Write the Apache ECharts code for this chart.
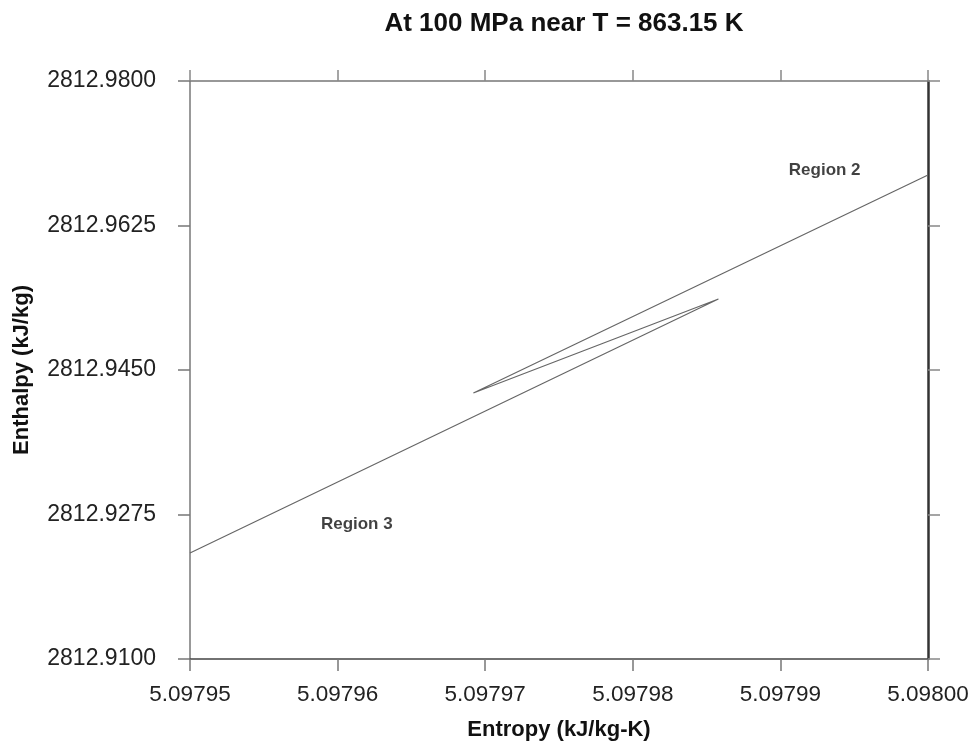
<!DOCTYPE html>
<html>
<head>
<meta charset="utf-8">
<script src="https://cdn.jsdelivr.net/npm/echarts@6/dist/echarts.min.js"></script>
<style>
html,body{margin:0;padding:0;background:#fff;}
#chart{width:972px;height:747px;}
</style>
</head>
<body>
<div id="chart"></div>
<script>
// Data
const entropy = [5.09795, 5.0979858, 5.0979692, 5.09800];           // kJ/kg-K
const enthalpy = [2812.92284, 2812.95360, 2812.94221, 2812.96862];   // kJ/kg
const regionNames = ['Region 2', 'Region 3'];
const regionEntropy = [5.0979930, 5.0979613];
const regionEnthalpy = [2812.96922, 2812.92635];
const xTickStart = 5.09795, xTickEnd = 5.09800, xTickStep = 0.00001;
const yTickStart = 2812.9100, yTickEnd = 2812.9800, yTickStep = 0.0175;

const lineData = entropy.map((s, i) => [s - xTickStart, enthalpy[i] - yTickStart]);
const regionData = regionNames.map((n, i) => ({
  name: n, value: [regionEntropy[i] - xTickStart, regionEnthalpy[i] - yTickStart]
}));

const FONT = 'Liberation Sans, Arial, sans-serif';
const chart = echarts.init(document.getElementById('chart'), null, {renderer: 'canvas'});
const xBase = {
  type: 'value', min: 0, max: xTickEnd - xTickStart, interval: xTickStep,
  splitLine: {show: false}
};
const yBase = {
  type: 'value', min: 0, max: yTickEnd - yTickStart, interval: yTickStep,
  splitLine: {show: false}
};
chart.setOption({
  animation: false,
  backgroundColor: '#fff',
  title: {
    text: 'At 100 MPa near T = 863.15 K', left: 559, top: 6, textAlign: 'center',
    textStyle: {fontFamily: FONT, fontSize: 26, fontWeight: 'bold', color: '#111'}
  },
  grid: {left: 190, right: 44, top: 81, bottom: 88, containLabel: false},
  xAxis: [
    Object.assign({}, xBase, {
      position: 'bottom',
      name: 'Entropy (kJ/kg-K)', nameLocation: 'middle', nameGap: 60,
      nameTextStyle: {fontFamily: FONT, fontSize: 22, fontWeight: 'bold', color: '#111'},
      axisLine: {show: true, onZero: false, lineStyle: {color: '#444', width: 1.5}},
      axisTick: {show: true, inside: false, length: 12, lineStyle: {color: '#777', width: 1.5}},
      axisLabel: {margin: 24, fontFamily: FONT, fontSize: 22.5, color: '#222',
        formatter: v => (xTickStart + v).toFixed(5)}
    }),
    Object.assign({}, xBase, {
      position: 'top',
      axisLine: {show: true, onZero: false, lineStyle: {color: '#777', width: 1.5}},
      axisTick: {show: true, inside: false, length: 11, lineStyle: {color: '#888', width: 1.5}},
      axisLabel: {show: false}
    })
  ],
  yAxis: [
    Object.assign({}, yBase, {
      position: 'left',
      name: 'Enthalpy (kJ/kg)', nameLocation: 'middle', nameGap: 157, nameRotate: 90,
      nameTextStyle: {fontFamily: FONT, fontSize: 22, fontWeight: 'bold', color: '#111'},
      axisLine: {show: true, onZero: false, lineStyle: {color: '#777', width: 1.5}},
      axisTick: {show: true, inside: false, length: 12, lineStyle: {color: '#777', width: 1.5}},
      axisLabel: {margin: 34, fontFamily: FONT, fontSize: 23, color: '#222',
        formatter: v => (yTickStart + v).toFixed(4)}
    }),
    Object.assign({}, yBase, {
      position: 'right',
      axisLine: {show: true, onZero: false, lineStyle: {color: '#333', width: 2.5}},
      axisTick: {show: true, inside: false, length: 12, lineStyle: {color: '#888', width: 1.5}},
      axisLabel: {show: false}
    })
  ],
  series: [
    {
      type: 'line', data: lineData, xAxisIndex: 0, yAxisIndex: 0,
      showSymbol: false, symbol: 'none',
      lineStyle: {color: '#666', width: 1.2}
    },
    {
      type: 'scatter', data: regionData, xAxisIndex: 0, yAxisIndex: 0,
      symbolSize: 0,
      label: {show: true, position: 'inside', formatter: p => p.name,
        fontFamily: FONT, fontSize: 17, fontWeight: 'bold', color: '#111'}
    }
  ]
});
</script>
</body>
</html>
